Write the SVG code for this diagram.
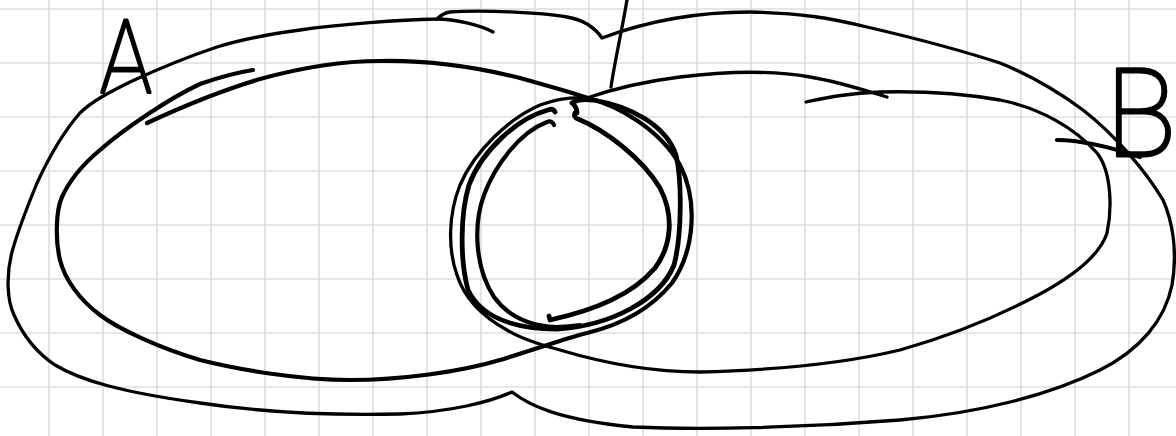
<svg xmlns="http://www.w3.org/2000/svg" width="1176" height="436" viewBox="0 0 1176 436">
<style>
.grid line{stroke:#dedede;stroke-width:1.6}
.ink{fill:none;stroke:#000;stroke-linecap:round;stroke-linejoin:round}
.t3{stroke-width:3.3}
.t4{stroke-width:4.2}
.t5{stroke-width:4.8}
.lbl{font-family:Roboto,Inter,"DejaVu Sans",sans-serif;font-weight:100;fill:#000;stroke:#000;stroke-width:3;stroke-linejoin:round}
</style>
<rect width="1176" height="436" fill="#fff"/>
<g class="grid" id="grid">
<line x1="49" y1="0" x2="49" y2="436"/><line x1="103" y1="0" x2="103" y2="436"/><line x1="157" y1="0" x2="157" y2="436"/><line x1="211" y1="0" x2="211" y2="436"/><line x1="265" y1="0" x2="265" y2="436"/><line x1="319" y1="0" x2="319" y2="436"/><line x1="373" y1="0" x2="373" y2="436"/><line x1="427" y1="0" x2="427" y2="436"/><line x1="481" y1="0" x2="481" y2="436"/><line x1="535" y1="0" x2="535" y2="436"/><line x1="589" y1="0" x2="589" y2="436"/><line x1="643" y1="0" x2="643" y2="436"/><line x1="697" y1="0" x2="697" y2="436"/><line x1="751" y1="0" x2="751" y2="436"/><line x1="805" y1="0" x2="805" y2="436"/><line x1="859" y1="0" x2="859" y2="436"/><line x1="913" y1="0" x2="913" y2="436"/><line x1="967" y1="0" x2="967" y2="436"/><line x1="1021" y1="0" x2="1021" y2="436"/><line x1="1075" y1="0" x2="1075" y2="436"/><line x1="1129" y1="0" x2="1129" y2="436"/>
<line x1="0" y1="9" x2="1176" y2="9"/><line x1="0" y1="63" x2="1176" y2="63"/><line x1="0" y1="117" x2="1176" y2="117"/><line x1="0" y1="171" x2="1176" y2="171"/><line x1="0" y1="225" x2="1176" y2="225"/><line x1="0" y1="279" x2="1176" y2="279"/><line x1="0" y1="333" x2="1176" y2="333"/><line x1="0" y1="387" x2="1176" y2="387"/>
</g>
<g id="outer-boundary">
<path class="ink t3" d="M437,19 C400,20 340,24 300,30 C270,34 240,40 217,47 C190,56 160,68 130,82 C110,92 92,101 80,113 C65,130 50,155 37,183 C28,205 18,230 12,252 C6,275 7,300 14,315 C25,340 40,355 55,365 C80,380 120,392 200,403 C260,412 320,416 400,414 C450,412 490,402 512,392 C530,406 560,420 633,427 C700,430 800,428 900,420 C980,413 1050,395 1100,370 C1140,350 1165,320 1172,285 C1178,250 1172,220 1163,200 C1145,170 1115,135 1083,110 C1060,93 1030,75 1000,63 C960,50 910,37 867,27 C830,18 800,13 750,12 C700,12 650,20 602,38 C595,28 585,20 567,17 C540,12 480,10 450,12 C443,13 440,16 437,19"/>
<path class="ink t3" d="M437,19 C455,19 480,25 493,32"/>
</g>
<g id="set-A">
<path class="ink t4" d="M147,123 C190,103 230,88 260,79 C300,68 340,61 380,61 C430,60 480,68 520,78 C545,85 570,92 585,97 C620,106 660,130 680,165 C698,200 695,250 672,283 C650,310 620,325 587,333 C560,340 540,348 500,360 C460,372 400,380 350,380 C300,380 240,370 200,360 C160,348 120,330 100,315 C80,300 65,280 60,260 C55,240 56,210 62,197 C72,175 88,160 100,150 C125,128 170,98 200,84 C220,77 240,72 253,70"/>
</g>
<g id="set-B">
<path class="ink t3" d="M806,102 C830,97 850,93 880,92 C920,91 960,93 1000,100 C1040,108 1075,128 1097,153 C1112,172 1112,210 1107,233 C1100,255 1075,275 1040,294 C1010,310 960,333 900,350 C850,362 780,370 700,372 C650,372 600,362 560,350 C530,342 515,335 507,330 C485,318 465,300 457,275 C448,250 448,215 460,185 C475,150 510,118 540,105 C560,98 575,97 587,98 C610,90 640,82 680,77 C720,72 770,70 810,77 C840,82 870,92 887,97"/>
</g>
<g id="intersection">
<path class="ink t5" d="M575,113 Q573,117 578,119 C605,130 642,158 660,188 C674,215 672,245 655,268 C632,295 595,310 550,320 L549,316"/>
<path class="ink t4" d="M554,125 Q552,120 547,122 C520,132 495,165 484,195 C473,225 475,268 494,297 C508,316 530,326 556,327 C565,327 572,326 580,325"/>
<path class="ink t5" d="M555,112 Q553,108 548,110 C518,118 482,150 469,185 C460,215 460,260 468,290 C480,315 510,329 557,329 C610,326 660,300 674,265 C682,235 682,180 676,155 C666,125 630,106 593,100 C585,99 576,100 572,103 Q577,107 577,113"/>
</g>
<g id="label-A">
<text class="lbl" x="126" y="93" font-size="102" text-anchor="middle" transform="translate(126 93) scale(0.85 1) translate(-126 -93)">A</text>
</g>
<g id="label-B">
<text class="lbl" x="1141" y="156" font-size="122" text-anchor="middle" transform="translate(1141 156) scale(0.95 1) translate(-1141 -156)">B</text>
<path class="ink t4" d="M1057,140 C1080,140 1110,147 1140,157"/>
</g>
<g id="connectors">
<path class="ink t3" d="M627,0 C622,30 615,60 611,87"/>
</g>
</svg>
